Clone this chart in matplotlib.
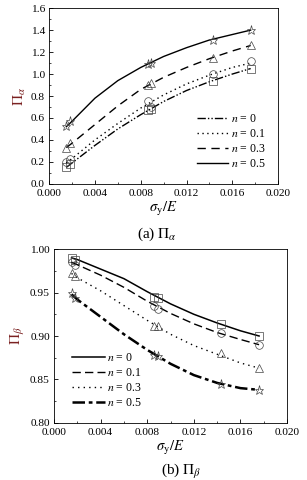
import matplotlib
matplotlib.use('Agg')
import matplotlib.pyplot as plt
from matplotlib.ticker import MultipleLocator

plt.rcParams['font.family'] = ['Liberation Serif', 'DejaVu Serif']
plt.rcParams['mathtext.fontset'] = 'stix'

# marker positions (sigma_y / E)
xm = [0.0015, 0.0018, 0.0086, 0.0089, 0.0143, 0.0176]
# positions where the drawn curves were read
xc = [0.0015, 0.002, 0.004, 0.006, 0.008, 0.010, 0.012, 0.014, 0.016, 0.0176]

n_labels = ['0', '0.1', '0.3', '0.5']

# (a) Pi_alpha
a_marks = {
    '0':   [0.15, 0.18, 0.67, 0.68, 0.94, 1.05],
    '0.1': [0.20, 0.23, 0.75, 0.70, 1.00, 1.12],
    '0.3': [0.33, 0.37, 0.90, 0.92, 1.15, 1.26],
    '0.5': [0.53, 0.57, 1.09, 1.10, 1.31, 1.40],
}
a_curve = {
    '0':   [0.15, 0.19, 0.35, 0.50, 0.63, 0.75, 0.85, 0.93, 1.00, 1.05],
    '0.1': [0.19, 0.23, 0.40, 0.55, 0.69, 0.81, 0.91, 0.99, 1.06, 1.10],
    '0.3': [0.33, 0.37, 0.54, 0.71, 0.86, 0.97, 1.06, 1.14, 1.21, 1.26],
    '0.5': [0.52, 0.57, 0.78, 0.94, 1.06, 1.16, 1.24, 1.31, 1.36, 1.40],
}

# (b) Pi_beta
b_marks = {
    '0':   [0.990, 0.988, 0.945, 0.944, 0.914, 0.900],
    '0.1': [0.985, 0.982, 0.934, 0.931, 0.904, 0.890],
    '0.3': [0.972, 0.969, 0.911, 0.911, 0.880, 0.863],
    '0.5': [0.949, 0.944, 0.878, 0.877, 0.845, 0.838],
}
b_curve = {
    '0':   [0.990, 0.988, 0.977, 0.966, 0.951, 0.937, 0.925, 0.915, 0.906, 0.900],
    '0.1': [0.985, 0.982, 0.970, 0.956, 0.940, 0.926, 0.914, 0.904, 0.896, 0.890],
    '0.3': [0.972, 0.967, 0.952, 0.935, 0.918, 0.902, 0.889, 0.879, 0.869, 0.863],
    '0.5': [0.948, 0.942, 0.922, 0.902, 0.884, 0.868, 0.855, 0.846, 0.840, 0.838],
}

a_styles = {'0': (0, (6, 1.5, 1, 1.5, 1, 1.5)), '0.1': (0, (1, 2.5)),
            '0.3': (0, (6, 4)), '0.5': '-'}
b_styles = {'0': '-', '0.1': (0, (6, 3)), '0.3': (0, (1, 3)),
            '0.5': (0, (5, 1.5, 1.5, 1.5))}
b_widths = {'0': 1.1, '0.1': 1.0, '0.3': 1.0, '0.5': 1.8}
markers = {'0': 's', '0.1': 'o', '0.3': '^', '0.5': '*'}
red = '#7a2020'

fig = plt.figure(figsize=(3.07, 4.80), dpi=100)
ax1 = fig.add_axes([0.160, 0.617, 0.746, 0.366])
ax2 = fig.add_axes([0.176, 0.119, 0.759, 0.362])


def style_axis(ax):
    ax.tick_params(direction='in', labelsize=8.2, length=3, width=0.6, pad=3)
    ax.tick_params(axis='x', pad=4)
    ax.tick_params(which='minor', direction='in', length=1.5, width=0.5)
    ax.xaxis.set_major_locator(MultipleLocator(0.004))
    ax.xaxis.set_minor_locator(MultipleLocator(0.002))
    ax.set_xlim(0, 0.02)
    ax.xaxis.set_major_formatter(plt.FormatStrFormatter('%.3f'))
    for s in ax.spines.values():
        s.set_linewidth(0.6)
    ax.set_xlabel(r'$\sigma_\mathrm{y}/E$', fontsize=10.5, labelpad=1)


for n in n_labels:
    ax1.plot(xc, a_curve[n], color='black', lw=1.0, ls=a_styles[n],
             label=r'$n$ = ' + n)
    ax1.plot(xm, a_marks[n], ls='none', marker=markers[n], mfc='none',
             mec='#444444', mew=0.5, ms=5.5 if n != '0.5' else 6.5)
style_axis(ax1)
ax1.set_ylim(0, 1.6)
ax1.yaxis.set_major_locator(MultipleLocator(0.2))
ax1.yaxis.set_minor_locator(MultipleLocator(0.1))
ax1.yaxis.set_major_formatter(plt.FormatStrFormatter('%.1f'))
ax1.set_ylabel(r'$\mathit{\Pi}_\alpha$', fontsize=11, color=red, labelpad=2)
ax1.legend(loc='lower right', fontsize=8.5, frameon=False, handlelength=2.6,
           handletextpad=0.2, labelspacing=0.25,
           bbox_to_anchor=(0.99, 0.02))

for n in n_labels:
    ax2.plot(xc, b_curve[n], color='black', lw=b_widths[n], ls=b_styles[n],
             label=r'$n$ = ' + n)
    ax2.plot(xm, b_marks[n], ls='none', marker=markers[n], mfc='none',
             mec='#444444', mew=0.5, ms=5.5 if n != '0.5' else 6.5)
style_axis(ax2)
ax2.set_ylim(0.80, 1.00)
ax2.yaxis.set_major_locator(MultipleLocator(0.05))
ax2.yaxis.set_minor_locator(MultipleLocator(0.025))
ax2.yaxis.set_major_formatter(plt.FormatStrFormatter('%.2f'))
ax2.set_ylabel(r'$\mathit{\Pi}_\beta$', fontsize=11, color=red, labelpad=2)
ax2.legend(loc='lower left', fontsize=8.5, frameon=False, handlelength=2.8,
           handletextpad=0.2, labelspacing=0.25, bbox_to_anchor=(0.03, 0.02))

fig.text(0.51, 0.512, r'(a) $\Pi_\alpha$', ha='center', va='center', fontsize=11)
fig.text(0.59, 0.017, r'(b) $\Pi_\beta$', ha='center', va='center', fontsize=11)

fig.savefig('out.png', dpi=100)
